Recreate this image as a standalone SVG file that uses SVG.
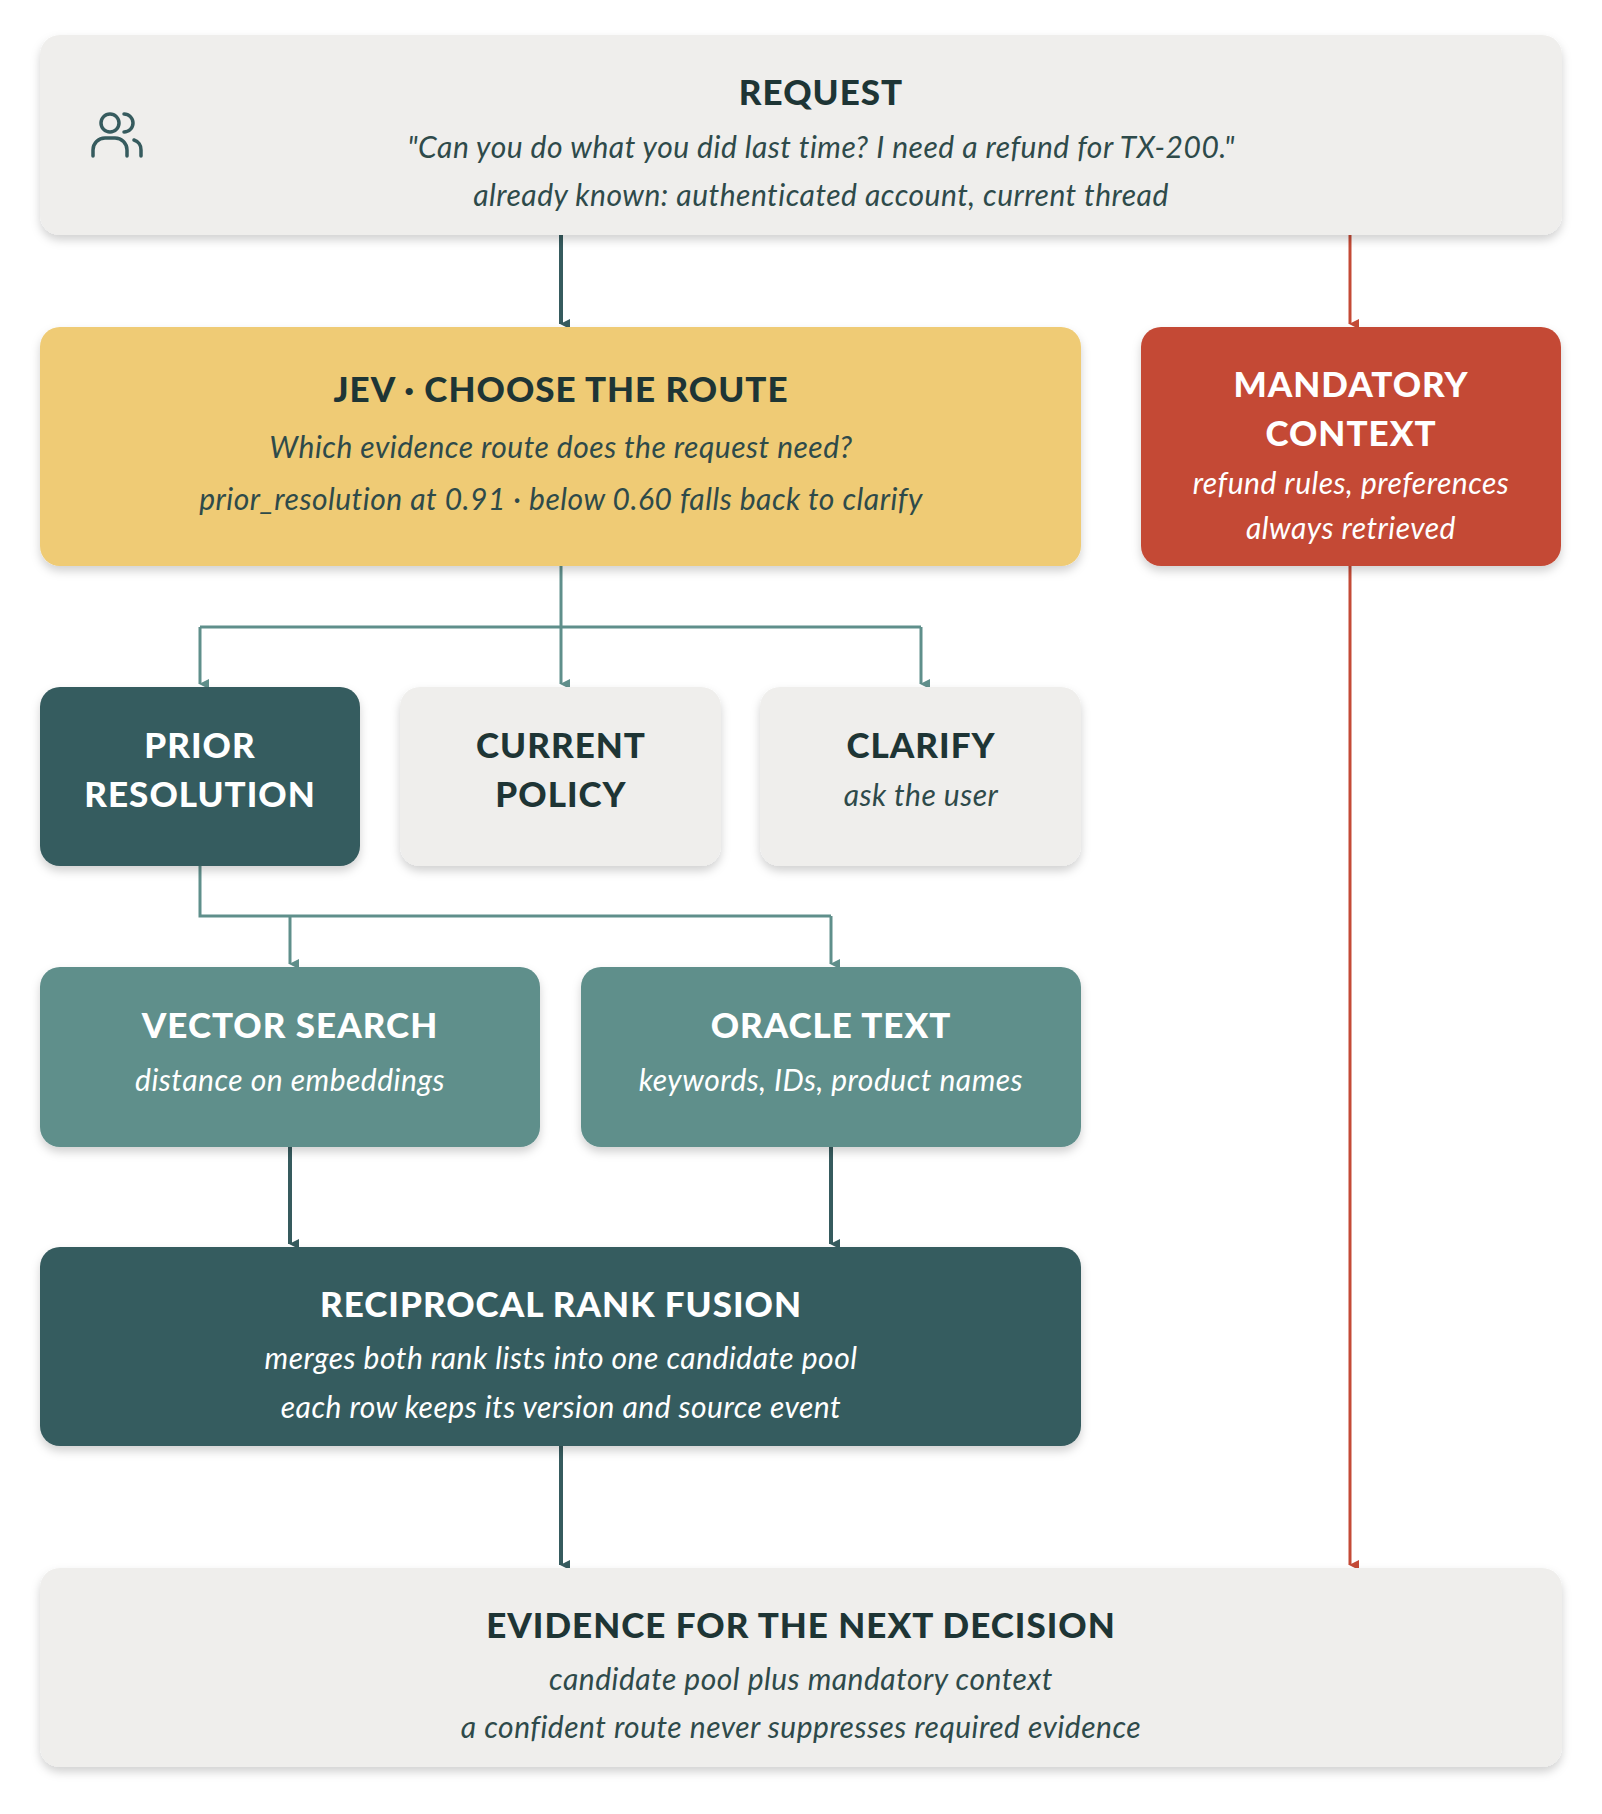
<svg xmlns="http://www.w3.org/2000/svg" width="1602" height="1814" viewBox="0 0 1602 1814">
<defs>
<filter id="sh" x="-10%" y="-10%" width="120%" height="130%"><feDropShadow dx="0" dy="5" stdDeviation="5" flood-color="#000" flood-opacity="0.18"/></filter>
<marker id="ad" markerWidth="10" markerHeight="10" refX="5" refY="9" orient="auto" markerUnits="userSpaceOnUse" viewBox="0 0 10 10"><path d="M0,0 L10,0 L5,10 Z" fill="#365b5e"/></marker>
<marker id="ar" markerWidth="10" markerHeight="10" refX="5" refY="9" orient="auto" markerUnits="userSpaceOnUse" viewBox="0 0 10 10"><path d="M0,0 L10,0 L5,10 Z" fill="#c44a36"/></marker>
<marker id="at" markerWidth="10" markerHeight="10" refX="5" refY="9" orient="auto" markerUnits="userSpaceOnUse" viewBox="0 0 10 10"><path d="M0,0 L10,0 L5,10 Z" fill="#5f8f8b"/></marker>
</defs>
<style>
.t{font-family:Lato,"Open Sans",sans-serif;font-weight:900;font-size:35px;text-anchor:middle;letter-spacing:1px}
.s{font-family:Lato,"Open Sans",sans-serif;font-style:italic;font-size:30px;text-anchor:middle;letter-spacing:0.5px}
.dk{fill:#1e3535}.wh{fill:#fff}.ds{fill:#2e4a4a}
</style>
<rect width="1602" height="1814" fill="#fff"/>
<g id="connectors" fill="none">
<path d="M561,235 V324" stroke="#365b5e" stroke-width="4" marker-end="url(#ad)"/>
<path d="M1350,235 V324" stroke="#c44a36" stroke-width="3" marker-end="url(#ar)"/>
<path d="M1350,566 V1565" stroke="#c44a36" stroke-width="3" marker-end="url(#ar)"/>
<path d="M561,566 V627 M200,627 H921" stroke="#5f8f8b" stroke-width="3"/>
<path d="M200,627 V684" stroke="#5f8f8b" stroke-width="3" marker-end="url(#at)"/>
<path d="M561,627 V684" stroke="#5f8f8b" stroke-width="3" marker-end="url(#at)"/>
<path d="M921,627 V684" stroke="#5f8f8b" stroke-width="3" marker-end="url(#at)"/>
<path d="M200,866 V916 H831" stroke="#5f8f8b" stroke-width="3"/>
<path d="M290,916 V964" stroke="#5f8f8b" stroke-width="3" marker-end="url(#at)"/>
<path d="M831,916 V964" stroke="#5f8f8b" stroke-width="3" marker-end="url(#at)"/>
<path d="M290,1147 V1244" stroke="#365b5e" stroke-width="4" marker-end="url(#ad)"/>
<path d="M831,1147 V1244" stroke="#365b5e" stroke-width="4" marker-end="url(#ad)"/>
<path d="M561,1446 V1565" stroke="#365b5e" stroke-width="4" marker-end="url(#ad)"/>
</g>
<g id="request">
<rect x="40" y="35" width="1522" height="200" rx="20" fill="#efeeec" filter="url(#sh)"/>
<g fill="none" stroke="#365b5e" stroke-width="3.5" stroke-linecap="round">
<circle cx="110" cy="123" r="9"/><path d="M93,156 v-6 a12,12 0 0 1 12,-12 h10 a12,12 0 0 1 12,12 v6"/>
<path d="M124,114 a9,9 0 0 1 0,18"/><path d="M134,140 a10,10 0 0 1 7,10 v6"/>
</g>
<text class="t dk" x="821" y="105">REQUEST</text>
<text class="s ds" x="821" y="158">"Can you do what you did last time? I need a refund for TX-200."</text>
<text class="s ds" x="821" y="206">already known: authenticated account, current thread</text>
</g>
<g id="jev">
<rect x="40" y="327" width="1041" height="239" rx="20" fill="#efcb74" filter="url(#sh)"/>
<text class="t dk" x="561" y="402">JEV · CHOOSE THE ROUTE</text>
<text class="s ds" x="561" y="458">Which evidence route does the request need?</text>
<text class="s ds" x="561" y="510">prior_resolution at 0.91 · below 0.60 falls back to clarify</text>
</g>
<g id="mandatory">
<rect x="1141" y="327" width="420" height="239" rx="20" fill="#c44a36" filter="url(#sh)"/>
<text class="t wh" x="1351" y="397">MANDATORY</text>
<text class="t wh" x="1351" y="446">CONTEXT</text>
<text class="s wh" x="1351" y="494">refund rules, preferences</text>
<text class="s wh" x="1351" y="539">always retrieved</text>
</g>
<g id="prior">
<rect x="40" y="687" width="320" height="179" rx="20" fill="#365b5e" filter="url(#sh)"/>
<text class="t wh" x="200" y="758">PRIOR</text>
<text class="t wh" x="200" y="807">RESOLUTION</text>
</g>
<g id="current">
<rect x="400" y="687" width="321" height="179" rx="20" fill="#efeeec" filter="url(#sh)"/>
<text class="t dk" x="561" y="758">CURRENT</text>
<text class="t dk" x="561" y="807">POLICY</text>
</g>
<g id="clarify">
<rect x="760" y="687" width="321" height="179" rx="20" fill="#efeeec" filter="url(#sh)"/>
<text class="t dk" x="921" y="758">CLARIFY</text>
<text class="s ds" x="921" y="806">ask the user</text>
</g>
<g id="vector">
<rect x="40" y="967" width="500" height="180" rx="20" fill="#5f8f8b" filter="url(#sh)"/>
<text class="t wh" x="290" y="1038">VECTOR SEARCH</text>
<text class="s wh" x="290" y="1091">distance on embeddings</text>
</g>
<g id="oracle">
<rect x="581" y="967" width="500" height="180" rx="20" fill="#5f8f8b" filter="url(#sh)"/>
<text class="t wh" x="831" y="1038">ORACLE TEXT</text>
<text class="s wh" x="831" y="1091">keywords, IDs, product names</text>
</g>
<g id="rrf">
<rect x="40" y="1247" width="1041" height="199" rx="20" fill="#365b5e" filter="url(#sh)"/>
<text class="t wh" x="561" y="1317">RECIPROCAL RANK FUSION</text>
<text class="s wh" x="561" y="1369">merges both rank lists into one candidate pool</text>
<text class="s wh" x="561" y="1418">each row keeps its version and source event</text>
</g>
<g id="evidence">
<rect x="40" y="1568" width="1522" height="199" rx="20" fill="#efeeec" filter="url(#sh)"/>
<text class="t dk" x="801" y="1638">EVIDENCE FOR THE NEXT DECISION</text>
<text class="s ds" x="801" y="1690">candidate pool plus mandatory context</text>
<text class="s ds" x="801" y="1738">a confident route never suppresses required evidence</text>
</g>
</svg>
